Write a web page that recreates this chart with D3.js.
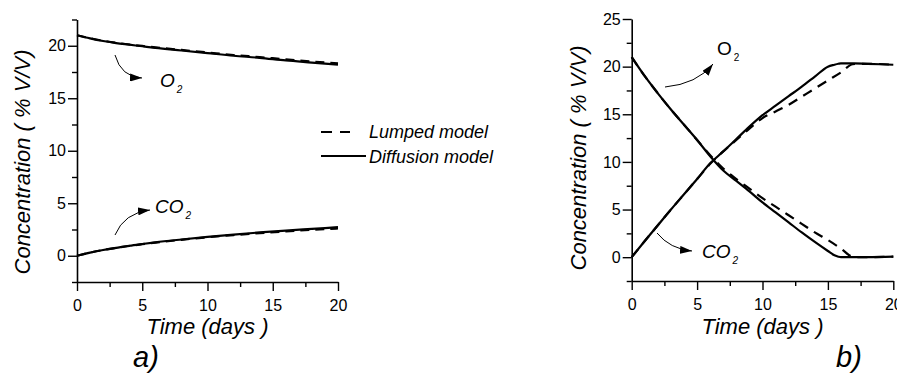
<!DOCTYPE html>
<html>
<head>
<meta charset="utf-8">
<script src="https://cdn.jsdelivr.net/npm/d3@7"></script>
<style>
  body { margin: 0; background: #fff; }
  svg { display: block; font-family: "Liberation Sans", Arial, sans-serif; }
  .tick text { font-size: 16px; fill: #000; }
  .title { font-size: 22px; font-style: italic; }
</style>
</head>
<body>
<svg id="chart" width="897" height="376"></svg>
<script>
// Sampling times (days)
const timeA = [0, 1, 2, 3, 4, 5, 6, 8, 10, 12, 14, 16, 18, 20];
// Panel a: slow respiration
const o2DiffA  = [21.0, 20.7, 20.45, 20.25, 20.1, 19.95, 19.8, 19.55, 19.3, 19.05, 18.85, 18.6, 18.4, 18.2];
const o2LumpA  = [21.0, 20.72, 20.48, 20.28, 20.12, 19.98, 19.85, 19.6, 19.36, 19.12, 18.92, 18.7, 18.5, 18.32];
const co2DiffA = [0, 0.3, 0.55, 0.75, 0.95, 1.12, 1.28, 1.55, 1.8, 2.02, 2.22, 2.4, 2.56, 2.72];
const co2LumpA = [0, 0.3, 0.55, 0.75, 0.93, 1.1, 1.25, 1.52, 1.76, 1.97, 2.15, 2.32, 2.47, 2.6];

// Panel b: fast respiration, diffusion model
const timeBDiff = [0, 1, 2, 3, 4, 5, 6, 7, 8, 9, 10, 11, 12, 13, 14, 15, 15.5, 15.8, 16, 17, 18, 20];
const o2DiffB  = [21, 19.0, 17.2, 15.5, 13.9, 12.3, 10.6, 9.1, 8.0, 6.9, 5.75, 4.7, 3.65, 2.6, 1.6, 0.65, 0.2, 0.05, 0, 0, 0, 0.05];
const co2DiffB = [0, 1.7, 3.35, 5.0, 6.6, 8.2, 9.85, 11.1, 12.4, 13.7, 14.9, 15.9, 16.9, 17.9, 18.95, 20.0, 20.2, 20.3, 20.35, 20.35, 20.3, 20.2];
// Panel b: fast respiration, lumped model
const timeBLump = [0, 1, 2, 3, 4, 5, 6, 7, 8, 9, 10, 11, 12, 13, 14, 15, 16, 16.9, 17.5, 18, 20];
const o2LumpB  = [21, 19.0, 17.2, 15.5, 13.9, 12.3, 10.7, 9.3, 8.2, 7.2, 6.2, 5.3, 4.4, 3.5, 2.6, 1.8, 0.9, 0.05, 0, 0, 0.05];
const co2LumpB = [0, 1.7, 3.35, 5.0, 6.6, 8.2, 9.8, 11.1, 12.3, 13.5, 14.6, 15.3, 16.0, 16.85, 17.7, 18.55, 19.4, 20.25, 20.3, 20.3, 20.2];

const xTicks = [0, 5, 10, 15, 20];
const yTicksA = [0, 5, 10, 15, 20];
const yTicksB = [0, 5, 10, 15, 20, 25];
const legendLabels = ["Lumped model", "Diffusion model"];

const svg = d3.select("#chart");

const panels = [
  {
    x: d3.scaleLinear().domain([0, 20]).range([77, 338]),
    y: d3.scaleLinear().domain([-2.5, 22.5]).range([282, 19.5]),
    yTicks: yTicksA, yMinorMax: 22.5,
    series: [
      { t: timeA, v: o2DiffA, dash: null },
      { t: timeA, v: o2LumpA, dash: "9,6" },
      { t: timeA, v: co2DiffA, dash: null },
      { t: timeA, v: co2LumpA, dash: "9,6" }
    ],
    yTitleX: 30, yTitleY: 162, tag: "a)", tagX: 146
  },
  {
    x: d3.scaleLinear().domain([0, 20]).range([631.7, 893.3]),
    y: d3.scaleLinear().domain([-2.5, 25]).range([281, 19]),
    yTicks: yTicksB, yMinorMax: 25,
    series: [
      { t: timeBDiff, v: o2DiffB, dash: null },
      { t: timeBLump, v: o2LumpB, dash: "10,7" },
      { t: timeBDiff, v: co2DiffB, dash: null },
      { t: timeBLump, v: co2LumpB, dash: "10,7" }
    ],
    yTitleX: 586, yTitleY: 158, tag: "b)", tagX: 849
  }
];

// Arrowhead used by the species annotations
svg.append("defs").append("marker")
  .attr("id", "head")
  .attr("markerUnits", "userSpaceOnUse")
  .attr("viewBox", "0 0 12 8")
  .attr("markerWidth", 12).attr("markerHeight", 8)
  .attr("refX", 12).attr("refY", 4)
  .attr("orient", "auto")
  .append("path").attr("d", "M0,0 L12,4 L0,8 Z").attr("fill", "#000");

panels.forEach(p => {
  const g = svg.append("g");
  const x0 = p.x.range()[0];
  const yBottom = p.y.range()[0];

  // Minor ticks every 2.5 units
  const xMinor = d3.range(2.5, 20, 5);
  const yMinor = d3.range(-2.5, p.yMinorMax + 0.01, 5).filter(v => !p.yTicks.includes(v));

  g.append("g").attr("transform", `translate(0,${yBottom})`)
    .call(d3.axisBottom(p.x).tickValues(xMinor).tickSize(5).tickFormat(""))
    .call(a => a.select(".domain").remove());
  g.append("g").attr("transform", `translate(${x0},0)`)
    .call(d3.axisLeft(p.y).tickValues(yMinor).tickSize(5).tickFormat(""))
    .call(a => a.select(".domain").remove());

  const xAxis = g.append("g").attr("transform", `translate(0,${yBottom})`)
    .call(d3.axisBottom(p.x).tickValues(xTicks).tickSize(9).tickSizeOuter(0).tickPadding(9).tickFormat(d3.format("d")));
  const yAxis = g.append("g").attr("transform", `translate(${x0},0)`)
    .call(d3.axisLeft(p.y).tickValues(p.yTicks).tickSize(9).tickSizeOuter(0).tickPadding(2).tickFormat(d3.format("d")));

  [xAxis, yAxis].forEach(a => {
    a.select(".domain").attr("stroke", "#000").attr("stroke-width", 1.6);
  });
  g.selectAll(".tick line").attr("stroke", "#000").attr("stroke-width", 1.4);

  // Curves
  const line = d3.line().curve(d3.curveMonotoneX);
  p.series.forEach(s => {
    const pts = s.t.map((t, i) => [p.x(t), p.y(s.v[i])]);
    g.append("path")
      .attr("d", line(pts))
      .attr("fill", "none")
      .attr("stroke", "#000")
      .attr("stroke-width", 2.2)
      .attr("stroke-dasharray", s.dash);
  });

  // Axis titles
  const xr = p.x.range();
  g.append("text").attr("class", "title")
    .attr("x", (xr[0] + xr[1]) / 2).attr("y", 334)
    .attr("text-anchor", "middle").text("Time (days )");
  g.append("text").attr("class", "title")
    .attr("transform", `translate(${p.yTitleX},${p.yTitleY}) rotate(-90)`)
    .attr("text-anchor", "middle").text("Concentration ( % V/V)");

  g.append("text")
    .attr("x", p.tagX).attr("y", 367)
    .attr("text-anchor", "middle")
    .style("font-size", "29px").style("font-style", "italic")
    .text(p.tag);
});

// Species annotations: curved arrow + chemical label
const notes = [
  { d: "M115,55 Q121,77 142,78", x: 160, y: 87, label: "O", italic: true },
  { d: "M115,235 Q124,213 150,210", x: 155, y: 213, label: "CO", italic: true },
  { d: "M665,87 Q697,84 713,64", x: 717, y: 55, label: "O", italic: false },
  { d: "M657,233 Q670,249 692,251", x: 702, y: 258, label: "CO", italic: true }
];
notes.forEach(n => {
  svg.append("path").attr("d", n.d)
    .attr("fill", "none").attr("stroke", "#000").attr("stroke-width", 1)
    .attr("marker-end", "url(#head)");
  const t = svg.append("text").attr("x", n.x).attr("y", n.y)
    .style("font-size", "19px").style("font-style", n.italic ? "italic" : "normal");
  t.append("tspan").text(n.label);
  t.append("tspan").attr("dx", 2).attr("dy", 6).style("font-size", "10px").text("2");
});

// Legend
const legend = svg.append("g");
legendLabels.forEach((lbl, i) => {
  const y = 132 + i * 24;
  legend.append("line")
    .attr("x1", 321).attr("x2", i === 0 ? 350 : 366)
    .attr("y1", y).attr("y2", y)
    .attr("stroke", "#000").attr("stroke-width", 2.2)
    .attr("stroke-dasharray", i === 0 ? "11,8" : null);
  legend.append("text")
    .attr("x", 369).attr("y", y + 6 + i)
    .style("font-size", "18px").style("font-style", "italic")
    .text(lbl);
});
</script>
</body>
</html>
